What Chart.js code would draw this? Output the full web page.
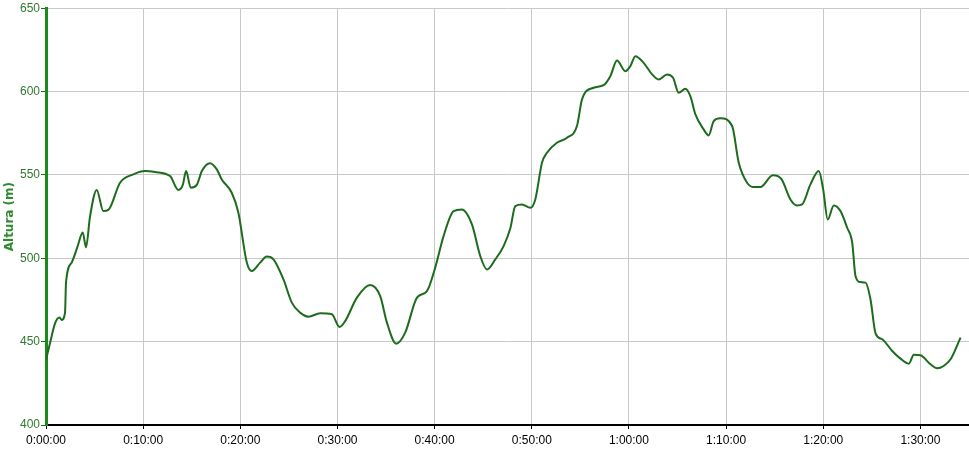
<!DOCTYPE html>
<html>
<head>
<meta charset="utf-8">
<script src="https://cdn.jsdelivr.net/npm/chart.js@4/dist/chart.umd.min.js"></script>
<style>
  html, body { margin: 0; padding: 0; background: #fff; }
  #wrap { width: 969px; height: 449px; }
</style>
</head>
<body>
<div id="wrap"><canvas id="profile"></canvas></div>
<script>
// time in minutes from start, altitude in metres
const minutes = [0, 0.41, 0.93, 1.39, 1.62, 1.96, 2.06, 2.65, 3.22, 3.78, 4.12, 4.53, 5.22, 5.90, 6.42, 7.62, 8.99,
  10.20, 11.23, 12.77, 13.62, 14.08, 14.42, 14.90, 15.52, 16.04, 16.89, 17.58, 18.09, 19.12, 19.80,
  20.67, 21.18, 22.04, 22.73, 23.41, 24.44, 25.30, 26.16, 27.01, 28.22, 29.42,
  30.21, 30.79, 32.00, 33.37, 34.40, 35.09, 36.05, 36.97, 38.18, 39.21,
  40.06, 40.92, 41.95, 42.81, 43.84, 44.70, 45.39, 46.24, 47.10, 47.79, 48.30, 48.99, 49.85,
  50.36, 51.05, 51.56, 52.59, 53.63, 54.65, 55.17, 56.36, 57.39, 58.08, 58.77, 59.63,
  60.14, 60.66, 61.51, 62.38, 63.06, 63.92, 64.54, 65.12, 65.81, 66.32, 66.84, 67.69, 68.21, 68.72, 69.41,
  70.62, 71.30, 72.16, 72.84, 73.53, 74.82, 75.70, 76.62, 77.31, 77.82, 78.68, 79.54, 79.99,
  80.46, 81.08, 81.77, 82.46, 82.98, 83.32, 83.83, 84.35, 84.86, 85.38, 86.07, 87.10, 87.95, 88.81, 89.32,
  90.01, 91.04, 91.73, 92.39, 93.10, 94.13];
const altura = [439, 449, 461, 464.5, 463, 467.5, 485.5, 497.5, 506.5, 515.5, 506.5, 525, 541, 528.3, 529, 545.3, 550.3,
  552.3, 551.7, 549.3, 541, 544, 552.3, 542.3, 544, 552.3, 557, 553.3, 547.3, 539.3, 527.3,
  497.4, 492.3, 497.4, 501, 499.3, 487.3, 473.4, 467.4, 465, 467, 466.4,
  458.8, 462.3, 476.4, 484, 477.3, 461.4, 448.8, 455.4, 476.4, 480.3,
  494.4, 513.3, 528.3, 529.3, 520.3, 501.3, 493.3, 499.3, 507.3, 518, 531.3, 532.3, 530.3,
  535.3, 557.3, 563.3, 569.3, 572.3, 579.3, 595.3, 602.3, 603.8, 609.2, 618.6, 612.2,
  615.2, 621.2, 617.2, 610.3, 607.3, 610.3, 608.3, 599.3, 601.7, 597.2, 586.3, 577.3, 573.7, 582.3, 584,
  579.3, 557.3, 545.3, 542.7, 542.7, 549.8, 547.5, 535.3, 531.7, 532.3, 544.3, 552.3, 541.3,
  523.3, 531.7, 528.3, 518.3, 509.3, 489.3, 485.7, 485.4, 475.4, 455, 451.4, 444.4, 439.8, 436.8, 442.2,
  441.8, 436.4, 434, 435.4, 439.4, 452.4];
const yTicks = [400, 450, 500, 550, 600, 650];

function fmtTime(m) {
  const h = Math.floor(m / 60);
  const mm = Math.round(m % 60);
  return h + ':' + String(mm).padStart(2, '0') + ':00';
}

const points = minutes.map((m, i) => ({ x: m, y: altura[i] }));

const ctx = document.getElementById('profile').getContext('2d');
new Chart(ctx, {
  type: 'line',
  data: {
    datasets: [{
      label: 'Altura',
      data: points,
      borderColor: '#1d6b1d',
      borderWidth: 2,
      pointRadius: 0,
      fill: false,
      cubicInterpolationMode: 'monotone'
    }]
  },
  options: {
    responsive: true,
    maintainAspectRatio: false,
    animation: false,
    layout: { padding: { top: 8, right: 0, left: 3, bottom: 0 } },
    plugins: { legend: { display: false }, tooltip: { enabled: false } },
    scales: {
      x: {
        type: 'linear',
        min: 0,
        max: 95,
        afterFit: s => { s.height = 24; },
        border: { color: '#000', width: 2 },
        grid: { color: '#c8c8c8', tickColor: '#000', tickLength: 4 },
        ticks: {
          stepSize: 10,
          includeBounds: false,
          maxRotation: 0,
          color: '#000',
          padding: 4,
          font: { family: 'Liberation Sans', size: 12 },
          callback: v => fmtTime(v)
        }
      },
      y: {
        min: 400,
        max: 650,
        afterFit: s => { s.width = 43; },
        afterBuildTicks: s => { s.ticks = yTicks.map(v => ({ value: v })); },
        border: { color: '#1b8a1b', width: 3 },
        grid: { color: '#c8c8c8', tickColor: '#1b6b1b', tickLength: 5 },
        ticks: {
          color: '#2f7a2f',
          padding: 1,
          font: { family: 'Liberation Sans', size: 12 }
        },
        title: {
          display: true,
          text: 'Altura (m)',
          color: '#2e8b2e',
          padding: 0,
          font: { family: 'DejaVu Sans', size: 12, weight: 'bold' }
        }
      }
    }
  }
});
</script>
</body>
</html>
